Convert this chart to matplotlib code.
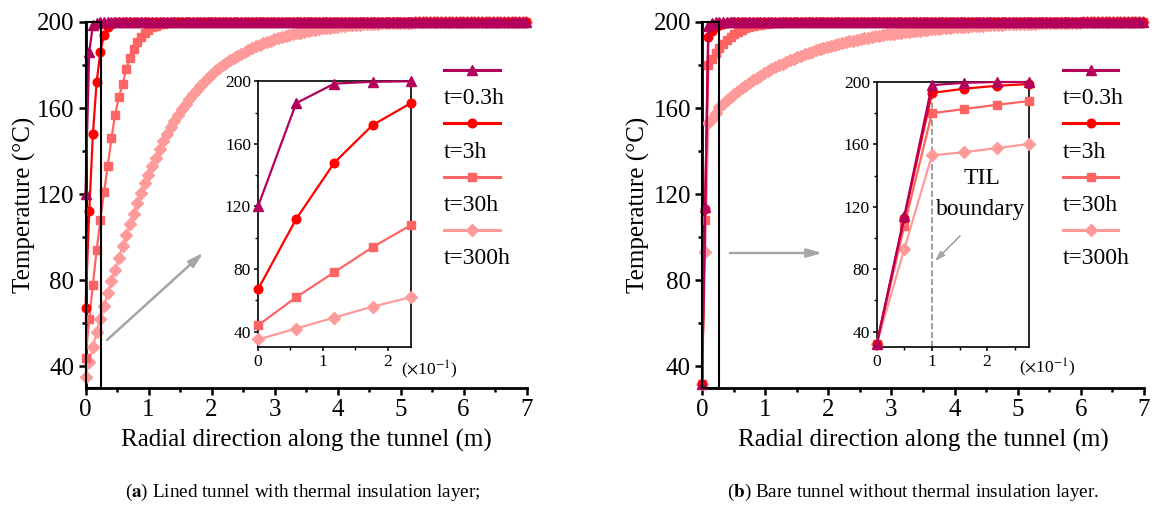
import numpy as np
import matplotlib
matplotlib.use('Agg')
import matplotlib.pyplot as plt
from matplotlib.lines import Line2D
from matplotlib.patches import Rectangle
from matplotlib.ticker import MultipleLocator

plt.rcParams['font.family'] = ['Liberation Serif', 'DejaVu Serif']
plt.rcParams['mathtext.fontset'] = 'stix'

W, H = 1158, 507

# mesh spacing (m)
dx = 0.0588
N = 120

# radial positions: lined tunnel = regular mesh, bare tunnel = 0.05 m cells in the first 0.1 m
r_lined = np.arange(N) * dx
r_bare = np.r_[0.0, 0.05, 0.1 + np.arange(N - 2) * dx]

labels = ['t=0.3h', 't=3h', 't=30h', 't=300h']
colors = ['#B3005A', '#FF0000', '#FF6464', '#FF9A9A']
markers = ['^', 'o', 's', 'D']
msizes = [6.8, 6.2, 5.8, 6.2]


def plateau(vals):
    # after the profile reaches the boundary temperature it stays at 200
    return vals + [200.0] * (N - len(vals))


# (a) lined tunnel with thermal insulation layer
T_lined_03 = plateau([120, 186, 198.5, 199.7])
T_lined_3 = plateau([67, 112, 148, 172, 186, 194, 197.6, 199.2, 199.8])
T_lined_30 = plateau([44, 62, 78, 94, 108, 121, 133, 146, 157, 165, 171, 178,
                      183.5, 187.5, 190.7, 193.2, 195, 196.4, 197.5, 198.3,
                      198.9, 199.3, 199.6, 199.8, 199.9, 199.95])
T_lined_300 = plateau([35, 42, 49, 56, 62, 68, 74, 79.5, 85, 90.5, 96, 101,
                       106, 111, 116, 120.5, 125, 129, 133, 137, 141, 144.5,
                       147.8, 151, 154, 156.8, 159.5, 162, 164.3, 166.5, 168.5,
                       170.5, 172.3, 174, 175.6, 177.1, 178.5, 179.8, 181,
                       182.2, 183.3, 184.3, 185.3, 186.2, 187.1, 187.9, 188.7,
                       189.4, 190.1, 190.7, 191.3, 191.9, 192.4, 192.9, 193.4,
                       193.9, 194.3, 194.7, 195.1, 195.5, 195.8, 196.1, 196.4,
                       196.7, 197, 197.2, 197.4, 197.6, 197.8, 198, 198.2,
                       198.4, 198.5, 198.7, 198.8, 198.9, 199, 199.1, 199.2,
                       199.3, 199.4, 199.45, 199.5, 199.55, 199.6, 199.65,
                       199.7, 199.7, 199.75, 199.8, 199.8, 199.85, 199.85,
                       199.9, 199.9, 199.9])

# (b) bare tunnel without thermal insulation layer
T_bare_03 = plateau([32, 114, 198, 199.5])
T_bare_3 = plateau([32, 113, 193, 195.7, 197.6, 198.7, 199.3, 199.7, 199.9])
T_bare_30 = plateau([32, 108, 180, 182.7, 185.4, 187.8, 189.8, 191.6, 193.1,
                     194.4, 195.4, 196.3, 197, 197.6, 198.1, 198.5, 198.8,
                     199.1, 199.3, 199.5, 199.6, 199.7, 199.8, 199.85, 199.9,
                     199.95])
T_bare_300 = plateau([32, 93, 153, 155, 157.7, 160.3, 162, 163.6, 165.1, 166.5,
                      167.9, 169.2, 170.5, 171.7, 172.9, 174, 175.1, 176.1,
                      177.1, 178, 178.9, 179.8, 180.6, 181.4, 182.2, 182.9,
                      183.6, 184.3, 185, 185.6, 186.2, 186.8, 187.4, 187.9,
                      188.4, 188.9, 189.4, 189.8, 190.2, 190.6, 191, 191.4,
                      191.8, 192.1, 192.4, 192.7, 193, 193.3, 193.6, 193.9,
                      194.2, 194.4, 194.6, 194.8, 195, 195.2, 195.4, 195.6,
                      195.8, 196, 196.2, 196.4, 196.6, 196.7, 196.9, 197,
                      197.2, 197.3, 197.5, 197.6, 197.7, 197.8, 197.9, 198,
                      198.1, 198.2, 198.3, 198.4, 198.5, 198.6, 198.7, 198.8,
                      198.85, 198.9, 199, 199.05, 199.1, 199.15, 199.2, 199.25,
                      199.3, 199.35, 199.4, 199.45, 199.5, 199.55, 199.6, 199.6,
                      199.65, 199.7, 199.7, 199.75, 199.75, 199.8, 199.8,
                      199.85, 199.85, 199.9, 199.9, 199.9, 199.95, 199.95,
                      199.95])

lined = [T_lined_03, T_lined_3, T_lined_30, T_lined_300]
bare = [T_bare_03, T_bare_3, T_bare_30, T_bare_300]


def fr(x, y):
    return x / W, 1 - y / H


fig = plt.figure(figsize=(W / 100, H / 100), dpi=100)


def main_axes(rect):
    ax = fig.add_axes(rect)
    ax.set_xlim(0, 7)
    ax.set_ylim(30, 200)
    ax.spines['top'].set_visible(False)
    ax.spines['right'].set_visible(False)
    for s in ['left', 'bottom']:
        ax.spines[s].set_linewidth(2)
    ax.xaxis.set_major_locator(MultipleLocator(1))
    ax.xaxis.set_minor_locator(MultipleLocator(0.5))
    ax.yaxis.set_major_locator(MultipleLocator(40))
    ax.yaxis.set_minor_locator(MultipleLocator(20))
    ax.tick_params(which='major', direction='out', length=5, width=1.8,
                   labelsize=18, pad=3)
    ax.tick_params(which='minor', direction='out', length=3, width=1.8)
    return ax


def inset_axes(rect, xmax):
    ax = fig.add_axes(rect)
    ax.set_xlim(0, xmax)
    ax.set_ylim(30, 200)
    for s in ax.spines.values():
        s.set_linewidth(1.2)
    ax.set_xticks([0, 0.1, 0.2])
    ax.set_xticklabels(['0', '1', '2'])
    ax.xaxis.set_minor_locator(MultipleLocator(0.05))
    ax.yaxis.set_major_locator(MultipleLocator(40))
    ax.yaxis.set_minor_locator(MultipleLocator(20))
    ax.tick_params(which='major', direction='out', length=3, width=1.1,
                   labelsize=12.5, pad=2)
    ax.tick_params(which='minor', direction='out', length=2, width=1.0)
    return ax


axl = main_axes([85.5 / W, 1 - 388 / H, 441 / W, 366 / H])
axr = main_axes([702 / W, 1 - 388 / H, 442 / W, 366 / H])
insl = inset_axes([258 / W, 1 - 347.3 / H, 152.7 / W, 266 / H], r_lined[4])
insr = inset_axes([876.7 / W, 1 - 347.3 / H, 152.6 / W, 265.3 / H], r_bare[5])

for i in [3, 2, 1, 0]:
    z = 3 + (3 - i)
    axl.plot(r_lined, lined[i], color=colors[i], marker=markers[i],
             ms=msizes[i], lw=1.6, mec=colors[i], clip_on=False, zorder=z)
    axr.plot(r_bare, bare[i], color=colors[i], marker=markers[i],
             ms=msizes[i], lw=1.6, mec=colors[i], clip_on=False, zorder=z)
    insl.plot(r_lined[:5], lined[i][:5], color=colors[i], marker=markers[i],
              ms=msizes[i], lw=1.6, mec=colors[i], clip_on=False, zorder=z)
    insr.plot(r_bare[:6], bare[i][:6], color=colors[i], marker=markers[i],
              ms=msizes[i], lw=1.6, mec=colors[i], clip_on=False, zorder=z)

# zoom windows on the main plots
axl.add_patch(Rectangle((0, 30), 0.24, 170, fill=False, ec='k', lw=1.5,
                        clip_on=False, zorder=10))
axr.add_patch(Rectangle((0, 30), 0.27, 170, fill=False, ec='k', lw=1.5,
                        clip_on=False, zorder=10))

# TIL boundary
insr.plot([0.1, 0.1], [30, 198], ls='--', color='#8C8C8C', lw=1.2, zorder=2)
fig.text(*fr(982, 179), 'TIL', fontsize=17, ha='center', va='center')
fig.text(*fr(981, 210), 'boundary', fontsize=17, ha='center', va='center')

gray = '#A6A6A6'
arrow = dict(arrowstyle='-|>,head_length=0.9,head_width=0.25', color=gray,
             lw=1.6, shrinkA=0, shrinkB=0)
fig.add_artist(plt.annotate('', xy=(203, H - 253), xytext=(107, H - 340),
                            xycoords='figure pixels', arrowprops=arrow))
fig.add_artist(plt.annotate('', xy=(822, H - 253), xytext=(730, H - 253),
                            xycoords='figure pixels', arrowprops=arrow))
fig.add_artist(plt.annotate('', xy=(935, H - 261), xytext=(960, H - 236),
                            xycoords='figure pixels',
                            arrowprops=dict(arrowstyle='-|>,head_length=0.6,head_width=0.18',
                                            color=gray, lw=1.0, shrinkA=0, shrinkB=0)))

# x10^-1 markers for the inset x axes
fig.text(*fr(429, 370), r'($\times$10$^{-1}$)', fontsize=12.5, ha='center', va='center')
fig.text(*fr(1047.5, 368), r'($\times$10$^{-1}$)', fontsize=12.5, ha='center', va='center')

# legends: handle above the label
for x0, x1 in [(444, 500), (1063, 1118)]:
    for i, (yh, yt) in enumerate([(70, 98), (123.3, 153), (176.7, 205), (230, 258)]):
        xm = (x0 + x1) / 2
        fig.add_artist(Line2D([x0 / W, xm / W, x1 / W], [1 - yh / H] * 3,
                              transform=fig.transFigure, color=colors[i], lw=2.2,
                              marker=markers[i], markevery=[1], ms=msizes[i],
                              mec=colors[i]))
        fig.text(x0 / W, 1 - yt / H, labels[i], fontsize=17, ha='left', va='center')

# axis labels
for xc in [24, 638]:
    fig.text(*fr(xc, 205), 'Temperature (°C)', fontsize=18, rotation=90,
             ha='center', va='center')
for xc in [306, 923]:
    fig.text(*fr(xc, 440), 'Radial direction along the tunnel (m)', fontsize=18,
             ha='center', va='center')

# captions
fig.text(*fr(302.5, 492), r'($\mathbf{a}$) Lined tunnel with thermal insulation layer;',
         fontsize=13.8, ha='center', va='center')
fig.text(*fr(913, 492), r'($\mathbf{b}$) Bare tunnel without thermal insulation layer.',
         fontsize=13.8, ha='center', va='center')

fig.savefig('out.png', dpi=100)
